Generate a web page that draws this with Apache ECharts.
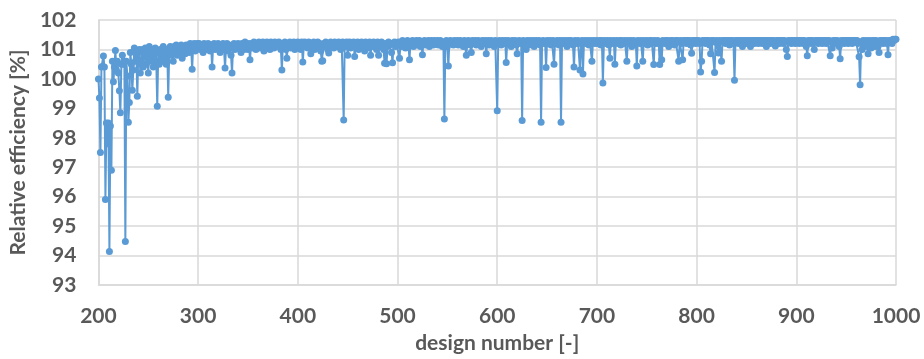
<!DOCTYPE html>
<html>
<head>
<meta charset="utf-8">
<script src="https://cdn.jsdelivr.net/npm/echarts@6/dist/echarts.min.js"></script>
<style>
  html, body { margin: 0; padding: 0; background: #fff; }
  #chart { width: 924px; height: 359px; }
</style>
</head>
<body>
<div id="chart"></div>
<script>
  var firstDesign = 200;
  var xTicks = [200, 300, 400, 500, 600, 700, 800, 900, 1000];
  var yTicks = [93, 94, 95, 96, 97, 98, 99, 100, 101, 102];

  // relative efficiency [%], design 200..299
  var eff2xx = [
    100.0, 99.35, 97.5, 100.4, 100.42, 100.78, 100.4, 95.9, 98.5, 97.8,
    98.5, 94.14, 98.4, 96.9, 100.6, 99.9, 100.4, 100.96, 100.3, 100.6,
    100.2, 99.6, 98.85, 100.5, 100.8, 100.5, 100.6, 94.48, 100.6, 100.1,
    98.53, 99.2, 100.9, 100.5, 99.61, 100.3, 101.05, 100.6, 100.9, 99.41,
    100.9, 101.0, 100.2, 100.6, 101.0, 100.4, 100.8, 101.05, 100.5, 100.9,
    100.2, 101.1, 100.6, 100.9, 101.0, 100.4, 100.8, 101.05, 100.6, 99.07,
    100.9, 100.5, 101.0, 100.7, 100.6, 101.1, 100.8, 100.9, 100.5, 101.0,
    99.38, 100.9, 101.1, 100.8, 101.0, 100.6, 101.1, 100.9, 101.15, 100.8,
    101.0, 101.1, 100.9, 101.15, 100.7, 101.0, 101.1, 100.85, 101.15, 101.0,
    101.1, 100.9, 101.2, 101.05, 100.33, 101.1, 101.2, 100.95, 101.15, 101.2
  ];
  // 300..399
  var eff3xx = [
    101.1, 101.2, 101.0, 101.15, 101.1, 100.9, 101.2, 101.05, 101.15, 101.0,
    101.2, 101.1, 100.95, 101.15, 100.4, 101.1, 101.2, 101.0, 101.15, 101.05,
    101.2, 101.1, 100.9, 101.15, 101.05, 101.2, 101.0, 100.37, 101.1, 101.2,
    100.95, 101.15, 101.05, 100.8, 100.2, 101.1, 101.2, 101.0, 101.15, 101.1,
    101.2, 101.05, 101.15, 100.9, 101.2, 101.1, 101.0, 101.25, 101.1, 101.15,
    101.0, 101.2, 100.65, 101.1, 101.2, 101.05, 101.25, 101.15, 101.0, 101.2,
    101.15, 101.25, 101.05, 101.2, 101.1, 101.25, 100.95, 101.2, 101.15, 101.25,
    101.1, 101.2, 101.0, 101.25, 101.15, 101.2, 101.05, 101.25, 101.15, 101.2,
    101.1, 101.25, 101.15, 101.0, 100.3, 101.2, 101.1, 101.25, 101.0, 100.7,
    101.2, 101.15, 101.25, 101.05, 101.2, 101.1, 101.25, 101.0, 101.2, 101.15
  ];
  // 400..499
  var eff4xx = [
    101.25, 101.1, 101.2, 101.0, 101.25, 100.57, 101.15, 101.25, 101.1, 101.2,
    101.05, 101.25, 101.15, 100.85, 101.2, 101.1, 101.25, 101.0, 101.2, 101.15,
    101.25, 101.1, 101.2, 100.95, 100.6, 100.62, 101.2, 101.1, 101.25, 101.15,
    101.0, 100.88, 101.2, 101.25, 101.1, 101.2, 101.05, 101.25, 101.15, 101.2,
    101.1, 101.25, 101.15, 101.0, 101.2, 101.25, 98.6, 101.2, 101.1, 101.25,
    100.8, 101.15, 101.25, 101.05, 101.2, 101.1, 101.25, 100.76, 101.2, 101.15,
    101.25, 101.0, 101.2, 101.1, 101.25, 101.15, 101.2, 100.95, 101.25, 101.15,
    101.2, 101.05, 101.25, 100.8, 101.2, 101.1, 101.25, 101.15, 101.2, 101.0,
    101.25, 100.8, 101.2, 101.1, 101.25, 101.15, 101.0, 100.53, 101.2, 100.51,
    101.1, 101.25, 101.15, 101.2, 100.9, 100.55, 101.2, 101.25, 101.1, 101.2
  ];
  // 500..599
  var eff5xx = [
    101.15, 101.25, 100.7, 101.2, 101.1, 101.3, 101.15, 101.25, 101.05, 101.2,
    101.3, 101.15, 100.65, 101.25, 101.2, 101.3, 101.1, 101.25, 101.2, 101.3,
    101.15, 101.25, 101.3, 101.1, 101.2, 100.82, 101.25, 101.3, 101.15, 101.25,
    101.2, 101.3, 101.1, 101.25, 101.3, 101.2, 101.15, 101.3, 101.25, 101.2,
    101.3, 101.15, 101.25, 101.3, 101.2, 101.1, 101.25, 98.64, 101.2, 101.3,
    101.1, 100.44, 101.25, 101.3, 101.2, 101.25, 101.15, 101.3, 101.25, 101.2,
    101.3, 101.15, 101.25, 101.3, 101.2, 101.25, 101.1, 101.3, 101.25, 100.8,
    101.2, 101.3, 101.25, 101.15, 100.9, 101.3, 101.2, 101.25, 101.3, 101.15,
    101.25, 101.3, 101.2, 101.25, 101.1, 101.3, 101.25, 101.2, 101.3, 100.85,
    101.25, 101.3, 101.15, 101.25, 101.3, 101.2, 101.25, 101.1, 101.3, 101.25
  ];
  // 600..699
  var eff6xx = [
    98.92, 101.2, 101.3, 101.25, 101.15, 101.3, 101.25, 101.2, 101.3, 100.56,
    101.25, 101.3, 101.2, 101.25, 101.1, 101.3, 101.25, 101.2, 101.3, 101.15,
    100.85, 101.25, 101.3, 101.2, 101.25, 98.59, 101.3, 101.25, 101.2, 101.0,
    101.3, 101.25, 101.15, 101.3, 101.25, 101.2, 101.3, 101.1, 101.25, 101.3,
    101.2, 101.25, 101.3, 101.15, 98.53, 101.25, 101.3, 101.2, 101.25, 100.39,
    101.3, 101.2, 101.25, 101.3, 101.15, 101.25, 101.3, 100.5, 101.25, 101.2,
    101.3, 101.25, 101.15, 101.3, 98.53, 101.25, 101.3, 101.2, 101.25, 101.3,
    101.1, 101.25, 101.3, 101.2, 101.3, 101.25, 101.15, 100.4, 101.3, 101.25,
    101.2, 101.3, 101.25, 100.3, 101.2, 101.3, 100.17, 101.25, 101.3, 101.2,
    101.25, 101.3, 101.15, 101.25, 101.3, 100.6, 101.25, 101.3, 101.2, 101.25
  ];
  // 700..799
  var eff7xx = [
    101.3, 101.2, 101.25, 101.3, 101.15, 101.3, 99.86, 101.25, 101.3, 101.2,
    101.25, 101.3, 101.15, 100.7, 101.3, 101.25, 101.2, 101.3, 100.5, 101.25,
    101.3, 101.2, 101.25, 101.3, 101.15, 101.3, 101.25, 101.2, 101.3, 101.25,
    100.6, 101.3, 101.2, 101.25, 101.3, 101.1, 101.25, 101.3, 101.2, 101.25,
    100.44, 101.3, 101.25, 101.2, 101.3, 101.25, 100.6, 101.3, 101.2, 101.25,
    101.3, 101.15, 101.25, 101.3, 101.2, 101.3, 101.25, 100.49, 101.3, 101.2,
    101.25, 101.3, 101.2, 100.49, 101.25, 100.65, 101.3, 101.25, 101.2, 101.3,
    101.25, 101.3, 101.1, 101.25, 101.3, 101.2, 101.3, 101.25, 101.15, 101.3,
    101.25, 101.3, 100.6, 101.25, 101.3, 101.2, 100.65, 101.3, 101.25, 101.3,
    101.2, 101.3, 101.25, 101.3, 101.15, 100.87, 101.3, 101.25, 101.3, 101.2
  ];
  // 800..899
  var eff8xx = [
    101.3, 101.25, 101.3, 101.2, 100.23, 100.6, 101.3, 101.25, 101.3, 101.2,
    101.3, 101.25, 101.3, 101.15, 100.85, 101.3, 101.25, 101.3, 100.22, 101.25,
    101.3, 101.2, 100.88, 101.3, 101.25, 100.6, 101.3, 101.25, 101.3, 101.2,
    101.3, 101.25, 101.3, 101.15, 101.3, 101.25, 101.3, 101.2, 99.95, 101.3,
    101.25, 101.3, 101.2, 101.3, 101.25, 101.3, 101.1, 101.3, 101.25, 101.3,
    101.2, 101.3, 101.25, 101.3, 101.1, 101.3, 101.25, 101.3, 101.2, 101.3,
    101.25, 101.3, 101.2, 101.3, 101.25, 101.3, 101.2, 101.3, 101.25, 101.3,
    101.1, 101.3, 101.25, 101.3, 101.2, 101.3, 101.25, 101.3, 101.2, 101.12,
    101.3, 101.25, 101.3, 101.2, 101.3, 101.25, 101.3, 101.2, 101.3, 101.25,
    101.0, 100.76, 101.3, 101.25, 101.3, 101.2, 101.3, 101.25, 101.3, 101.2
  ];
  // 900..1000
  var eff9xx = [
    101.3, 101.25, 101.3, 101.2, 101.3, 101.25, 101.3, 101.2, 101.3, 101.25,
    101.1, 100.79, 101.3, 101.25, 101.3, 101.2, 101.3, 101.25, 101.0, 101.3,
    101.25, 101.3, 101.2, 101.3, 101.25, 101.3, 101.2, 101.3, 101.25, 101.3,
    101.2, 101.3, 101.25, 101.3, 100.79, 101.25, 101.05, 101.3, 101.25, 101.3,
    101.2, 101.3, 101.25, 101.1, 100.68, 101.3, 101.25, 101.3, 101.2, 101.3,
    101.25, 101.3, 101.2, 101.3, 101.25, 101.3, 101.2, 101.3, 101.25, 101.3,
    101.25, 101.3, 101.2, 100.75, 99.8, 101.25, 101.0, 101.3, 101.25, 101.1,
    101.3, 101.25, 100.85, 101.3, 101.2, 101.05, 101.3, 101.25, 101.3, 101.1,
    101.3, 101.25, 101.1, 100.9, 101.3, 101.25, 101.3, 101.2, 101.3, 101.25,
    101.3, 101.2, 100.82, 101.3, 101.25, 101.3, 101.2, 101.35, 101.3, 101.35,
    101.35
  ];

  var efficiency = [].concat(eff2xx, eff3xx, eff4xx, eff5xx, eff6xx, eff7xx, eff8xx, eff9xx);
  var points = efficiency.map((v, i) => [firstDesign + i, v]);

  var labelFont = 'Lato, "Open Sans", sans-serif';
  var gray = '#595959';
  var gridColor = '#d9d9d9';

  let myChart = echarts.init(document.getElementById('chart'));
  let option = {
    animation: false,
    grid: {
      left: 94,
      right: 28,
      top: 20,
      bottom: 73
    },
    xAxis: {
      type: 'value',
      min: xTicks[0],
      max: xTicks[xTicks.length - 1],
      interval: 100,
      name: 'design number [-]',
      nameLocation: 'middle',
      nameGap: 48,
      nameTextStyle: { color: gray, fontFamily: labelFont, fontWeight: 'bold', fontSize: 21 },
      axisLine: { show: true, lineStyle: { color: gridColor, width: 1.5 } },
      axisTick: { show: false },
      axisLabel: {
        color: gray, fontFamily: labelFont, fontWeight: 'bold', fontSize: 21, margin: 21,
        formatter: v => String(v)
      },
      splitLine: { show: true, lineStyle: { color: gridColor, width: 1.5 } }
    },
    yAxis: {
      type: 'value',
      min: yTicks[0],
      max: yTicks[yTicks.length - 1],
      interval: 1,
      name: 'Relative efficiency [%]',
      nameLocation: 'middle',
      nameGap: 62,
      nameTextStyle: { color: gray, fontFamily: labelFont, fontWeight: 'bold', fontSize: 21 },
      axisLine: { show: true, lineStyle: { color: gridColor, width: 1.5 } },
      axisTick: { show: false },
      axisLabel: { color: gray, fontFamily: labelFont, fontWeight: 'bold', fontSize: 21, margin: 22 },
      splitLine: { show: true, lineStyle: { color: gridColor, width: 1.5 } }
    },
    series: [
      {
        name: 'Relative efficiency',
        type: 'line',
        data: points,
        showAllSymbol: true,
        symbol: 'circle',
        symbolSize: 7,
        itemStyle: { color: '#5b9bd5' },
        lineStyle: { color: '#5b9bd5', width: 2 }
      }
    ]
  };

  option && myChart.setOption(option);
</script>
</body>
</html>
